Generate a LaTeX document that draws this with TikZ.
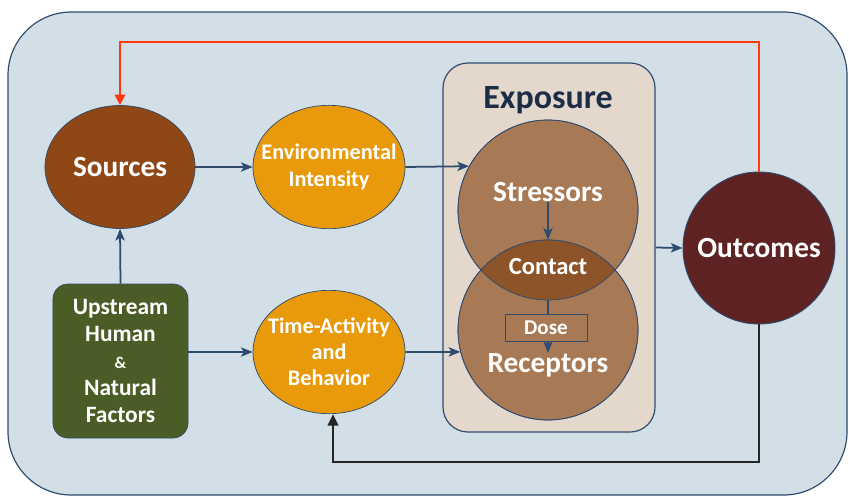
\documentclass[tikz,border=0pt]{standalone}
\usepackage{fontspec}
\setmainfont{Carlito}
\usetikzlibrary{arrows.meta,shapes.geometric}
\definecolor{panelblue}{HTML}{D3DFE6}
\definecolor{edgeblue}{HTML}{2E4A6E}
\definecolor{titlenavy}{HTML}{1E2D47}
\definecolor{exposurebg}{HTML}{E4D8CC}
\definecolor{circbrown}{HTML}{A77A55}
\definecolor{contactbrown}{HTML}{8C5428}
\definecolor{sourcebrown}{HTML}{8E4715}
\definecolor{ochre}{HTML}{E99A0B}
\definecolor{outcomered}{HTML}{5E2222}
\definecolor{olivegreen}{HTML}{4B5D26}
\definecolor{feedred}{HTML}{FF3A0F}

\begin{document}
\begin{tikzpicture}[x=0.03cm,y=-0.03cm]
	\tikzstyle{every node}=[text=white, align=center, inner sep=0pt]
	\tikzstyle{big}=[font=\fontsize{25}{28}\selectfont\bfseries]
	\tikzstyle{blob}=[ellipse, draw=edgeblue, line width=.6pt, inner xsep=-16pt, inner ysep=-4pt, minimum width=4.56cm, minimum height=3.7cm]
	\tikzstyle{ring}=[circle, draw=edgeblue, fill=circbrown, line width=.6pt, minimum size=5.4cm]
	\tikzstyle{link}=[draw=edgeblue, line width=1.5pt, -{Stealth[length=10pt,width=8pt,inset=2.5pt]}]
	\fill[white] (0,0) rectangle (849,498);
	\useasboundingbox (0,0) rectangle (849,498);
	\path[draw=edgeblue, fill=panelblue, line width=1pt, rounded corners=1.9cm] (8,12) rectangle (847,495);

	\path (549,247.5) node[draw=edgeblue, fill=exposurebg, line width=1pt, rounded corners=0.75cm, minimum width=6.36cm, minimum height=11.07cm] (exposure) {};
	\path (548,100) node[text=titlenavy, font=\fontsize{29}{30}\selectfont\bfseries] (exptitle) {Exposure};
	\path (548,210) node[ring] (stressors) {};
	\path (548,330) node[ring] (receptors) {};
	\begin{scope}
		\clip (stressors.center) circle[radius=90];
		\fill[contactbrown] (receptors.center) circle[radius=90];
	\end{scope}
	\draw[edgeblue, line width=.6pt] (stressors.center) circle[radius=90];
	\draw[edgeblue, line width=.6pt] (receptors.center) circle[radius=90];
	\path (548,192) node[big] (stressorstxt) {Stressors};
	\path (548,267) node[font=\fontsize{21}{24}\selectfont\bfseries] (contact) {Contact};
	\path (548,365) node[big] (receptorstxt) {Receptors};
	\draw[link] (stressorstxt.south) -- (receptors.north);
	\draw[link] (stressors.south) -- (receptorstxt.north);
	\path (546,328) node[draw=edgeblue, fill=circbrown, line width=.8pt, minimum width=2.46cm, minimum height=0.81cm, font=\fontsize{18}{20}\selectfont\bfseries] (dose) {Dose};

	\path (120,167) node[blob, fill=sourcebrown, big, minimum width=4.5cm, minimum height=3.69cm] (sources) {Sources};
	\path (329,167) node[blob, fill=ochre, font=\fontsize{19}{23}\selectfont\bfseries] (envint) {Environmental\\Intensity};
	\path (329,352) node[blob, fill=ochre, font=\fontsize{19}{22}\selectfont\bfseries] (timeact) {Time-Activity\\and\\Behavior};
	\path (120.5,361) node[draw=edgeblue, fill=olivegreen, line width=.6pt, rounded corners=0.45cm, minimum width=4.05cm, minimum height=4.62cm, font=\fontsize{20}{23}\selectfont\bfseries] (upstream) {Upstream\\Human\\{\fontsize{14}{23}\selectfont\&}\\Natural\\Factors};
	\path (759,248) node[circle, draw=edgeblue, fill=outcomered, line width=.8pt, minimum size=4.56cm, big] (outcomes) {Outcomes};

	\draw[link] (upstream.north) -- (sources.south);
	\draw[link] (sources.east) -- (envint.west);
	\draw[link] (upstream.east |- timeact.west) -- (timeact.west);
	\draw[link] (envint.east) -- (stressors.151);
	\draw[link] (timeact.east) -- (receptors.194);
	\draw[link] (exposure.east) -- (outcomes.west);

	\coordinate (redtop) at (120,42);
	\coordinate (blackbot) at (333,462);
	\draw[feedred, line width=1.8pt, -{Triangle[length=9pt,width=9pt]}] (outcomes.north) |- (redtop) -- (sources.north);
	\draw[black!85, line width=2.2pt, -{Triangle[length=10pt,width=9pt]}] (outcomes.south) |- (blackbot) -- (timeact.south -| blackbot);
\end{tikzpicture}
\end{document}
